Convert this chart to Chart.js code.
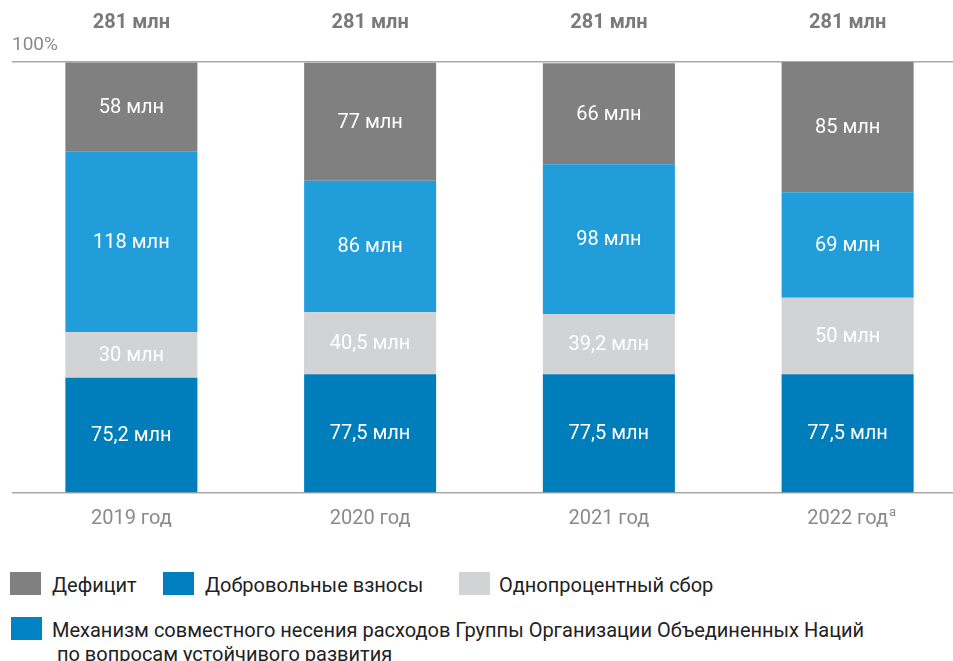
<!DOCTYPE html>
<html lang="ru">
<head>
<meta charset="utf-8">
<script src="https://cdn.jsdelivr.net/npm/chart.js@4"></script>
<style>
  body { margin: 0; background: #fff; font-family: Roboto, sans-serif; }
  #wrap { position: relative; width: 953px; height: 661px; overflow: hidden; }
  #chart-box { position: absolute; left: 0; top: 0; width: 967px; height: 560px; }
  .legend { position: absolute; font-size: 20px; color: #222; line-height: 24px; white-space: nowrap; }
  .sw { position: absolute; width: 31px; height: 23px; }
</style>
</head>
<body>
<div id="wrap">
  <div id="chart-box"><canvas id="funding__graph"></canvas></div>

  <div class="sw" style="left:10px;top:572px;background:#808080"></div>
  <div class="legend" style="left:52px;top:573px">Дефицит</div>
  <div class="sw" style="left:163px;top:572px;background:#007fbf"></div>
  <div class="legend" style="left:205px;top:573px">Добровольные взносы</div>
  <div class="sw" style="left:459px;top:572px;background:#d1d3d4"></div>
  <div class="legend" style="left:499px;top:573px">Однопроцентный сбор</div>

  <div class="sw" style="left:11px;top:617px;background:#0082c4"></div>
  <div class="legend" style="left:52px;top:618px">Механизм совместного несения расходов Группы Организации Объединенных Наций<br>&nbsp;по вопросам устойчивого развития</div>
</div>

<script>
const years = ['2019 год', '2020 год', '2021 год', '2022 год'];
const yearNotes = ['', '', '', 'а'];
const totals = ['281 млн', '281 млн', '281 млн', '281 млн'];

// values in millions, bottom to top
const mechanism = [75.2, 77.5, 77.5, 77.5];
const onePercent = [30, 40.5, 39.2, 50];
const voluntary = [118, 86, 98, 69];
const deficit = [58, 77, 66, 85];

const fmt = v => String(v).replace('.', ',') + ' млн';

const ctx = document.getElementById('funding__graph').getContext('2d');

// labels inside segments, totals on top, year labels underneath
const labelsPlugin = {
    id: 'labels',
    afterDatasetsDraw(chart) {
        const c = chart.ctx;
        const area = chart.chartArea;
        c.save();
        c.textAlign = 'center';
        c.textBaseline = 'middle';

        chart.data.datasets.forEach((ds, i) => {
            chart.getDatasetMeta(i).data.forEach((bar, j) => {
                const mid = (bar.y + bar.base) / 2;
                c.font = '20px Roboto';
                c.fillStyle = '#ffffff';
                c.fillText(fmt(ds.data[j]), bar.x, mid + 1);
            });
        });

        const top = chart.getDatasetMeta(0).data;
        top.forEach((bar, j) => {
            c.font = 'bold 20px Roboto';
            c.fillStyle = '#7a7a7a';
            c.fillText(totals[j], bar.x, area.top - 39);

            c.font = '20px Roboto';
            c.fillStyle = '#8a8a8a';
            const w = c.measureText(years[j]).width;
            c.fillText(years[j], bar.x, area.bottom + 26);
            if (yearNotes[j]) {
                c.font = '13px Roboto';
                c.textAlign = 'left';
                c.fillText(yearNotes[j], bar.x + w / 2 + 1, area.bottom + 20);
                c.textAlign = 'center';
            }
        });

        c.font = '19px Roboto';
        c.fillStyle = '#8a8a8a';
        c.textAlign = 'left';
        c.fillText('100%', area.left, area.top - 17);
        c.restore();
    }
};

const fundingChart = new Chart(ctx, {
    type: 'bar',
    data: {
        labels: years,
        datasets: [
            { label: 'Механизм совместного несения расходов', data: mechanism, backgroundColor: '#007dbb' },
            { label: 'Однопроцентный сбор', data: onePercent, backgroundColor: '#d1d3d4' },
            { label: 'Добровольные взносы', data: voluntary, backgroundColor: '#219ed9' },
            { label: 'Дефицит', data: deficit, backgroundColor: '#808080' }
        ]
    },
    options: {
        responsive: true,
        maintainAspectRatio: false,
        animation: false,
        layout: {
            padding: { left: 12, right: 0, top: 62, bottom: 67 }
        },
        datasets: {
            bar: {
                categoryPercentage: 1,
                barPercentage: 0.553,
                borderWidth: 0
            }
        },
        plugins: {
            legend: { display: false },
            tooltip: { enabled: false }
        },
        scales: {
            x: {
                stacked: true,
                display: false
            },
            y: {
                stacked: true,
                min: 0,
                max: 281.5,
                afterBuildTicks: axis => {
                    axis.ticks = [{ value: 0 }, { value: 281.5 }];
                },
                ticks: { display: false },
                border: { display: false },
                grid: {
                    color: '#a9a9a9',
                    lineWidth: 1.5,
                    drawTicks: false
                }
            }
        }
    },
    plugins: [labelsPlugin]
});
</script>
</body>
</html>
